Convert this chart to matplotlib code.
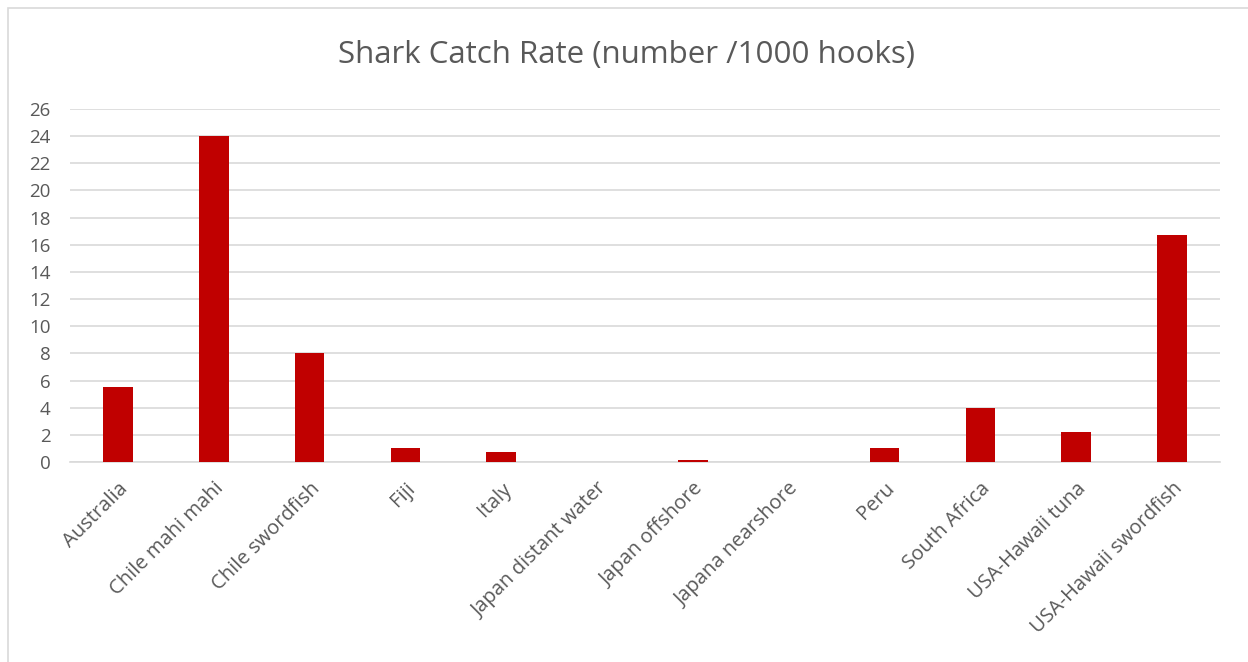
import matplotlib.pyplot as plt
from matplotlib.patches import Rectangle

# shark catch rates per fishery
categorias = ["Australia", "Chile mahi mahi", "Chile swordfish", "Fiji", "Italy",
              "Japan distant water", "Japan offshore", "Japana nearshore", "Peru",
              "South Africa", "USA-Hawaii tuna", "USA-Hawaii swordfish"]
tasas = [5.5, 24.0, 8.0, 1.05, 0.7, 0.02, 0.15, 0.0, 1.0, 4.0, 2.2, 16.7]
ticks_y = list(range(0, 27, 2))

plt.rcParams['font.family'] = ['Open Sans', 'DejaVu Sans']
gris = '#595959'

fig = plt.figure(figsize=(12.48, 6.62), dpi=100)
ax = fig.add_axes([70 / 1248, 200 / 662, 1150 / 1248, 353 / 662])

x = range(len(categorias))
ax.bar(x, tasas, width=0.31, color='#C00000', zorder=3)

ax.set_xlim(-0.5, len(categorias) - 0.5)
ax.set_ylim(0, 26)
ax.set_yticks(ticks_y)
ax.set_yticklabels([str(t) for t in ticks_y], fontsize=13.5, color=gris)
ax.set_xticks(list(x))
ax.set_xticklabels(categorias, rotation=45, ha='right', rotation_mode='anchor',
                   fontsize=14.5, color=gris)
ax.tick_params(axis='y', length=0, pad=14)
ax.tick_params(axis='x', length=0, pad=12)
ax.grid(axis='y', color='#D9D9D9', linewidth=1.2, zorder=0)
for s in ['top', 'right', 'left']:
    ax.spines[s].set_visible(False)
ax.spines['bottom'].set_color('#D9D9D9')
ax.spines['bottom'].set_linewidth(1.2)

fig.text(627 / 1248, 1 - 55 / 662, "Shark Catch Rate (number /1000 hooks)",
         ha='center', va='center', fontsize=22.5, color=gris)

# borde del gráfico
fig.patches.append(Rectangle((8 / 1248, -0.01), 1.02, 1 - 8 / 662 + 0.01,
                             transform=fig.transFigure, fill=False,
                             edgecolor='#D9D9D9', linewidth=1.2))

fig.savefig("out.png", dpi=100)
